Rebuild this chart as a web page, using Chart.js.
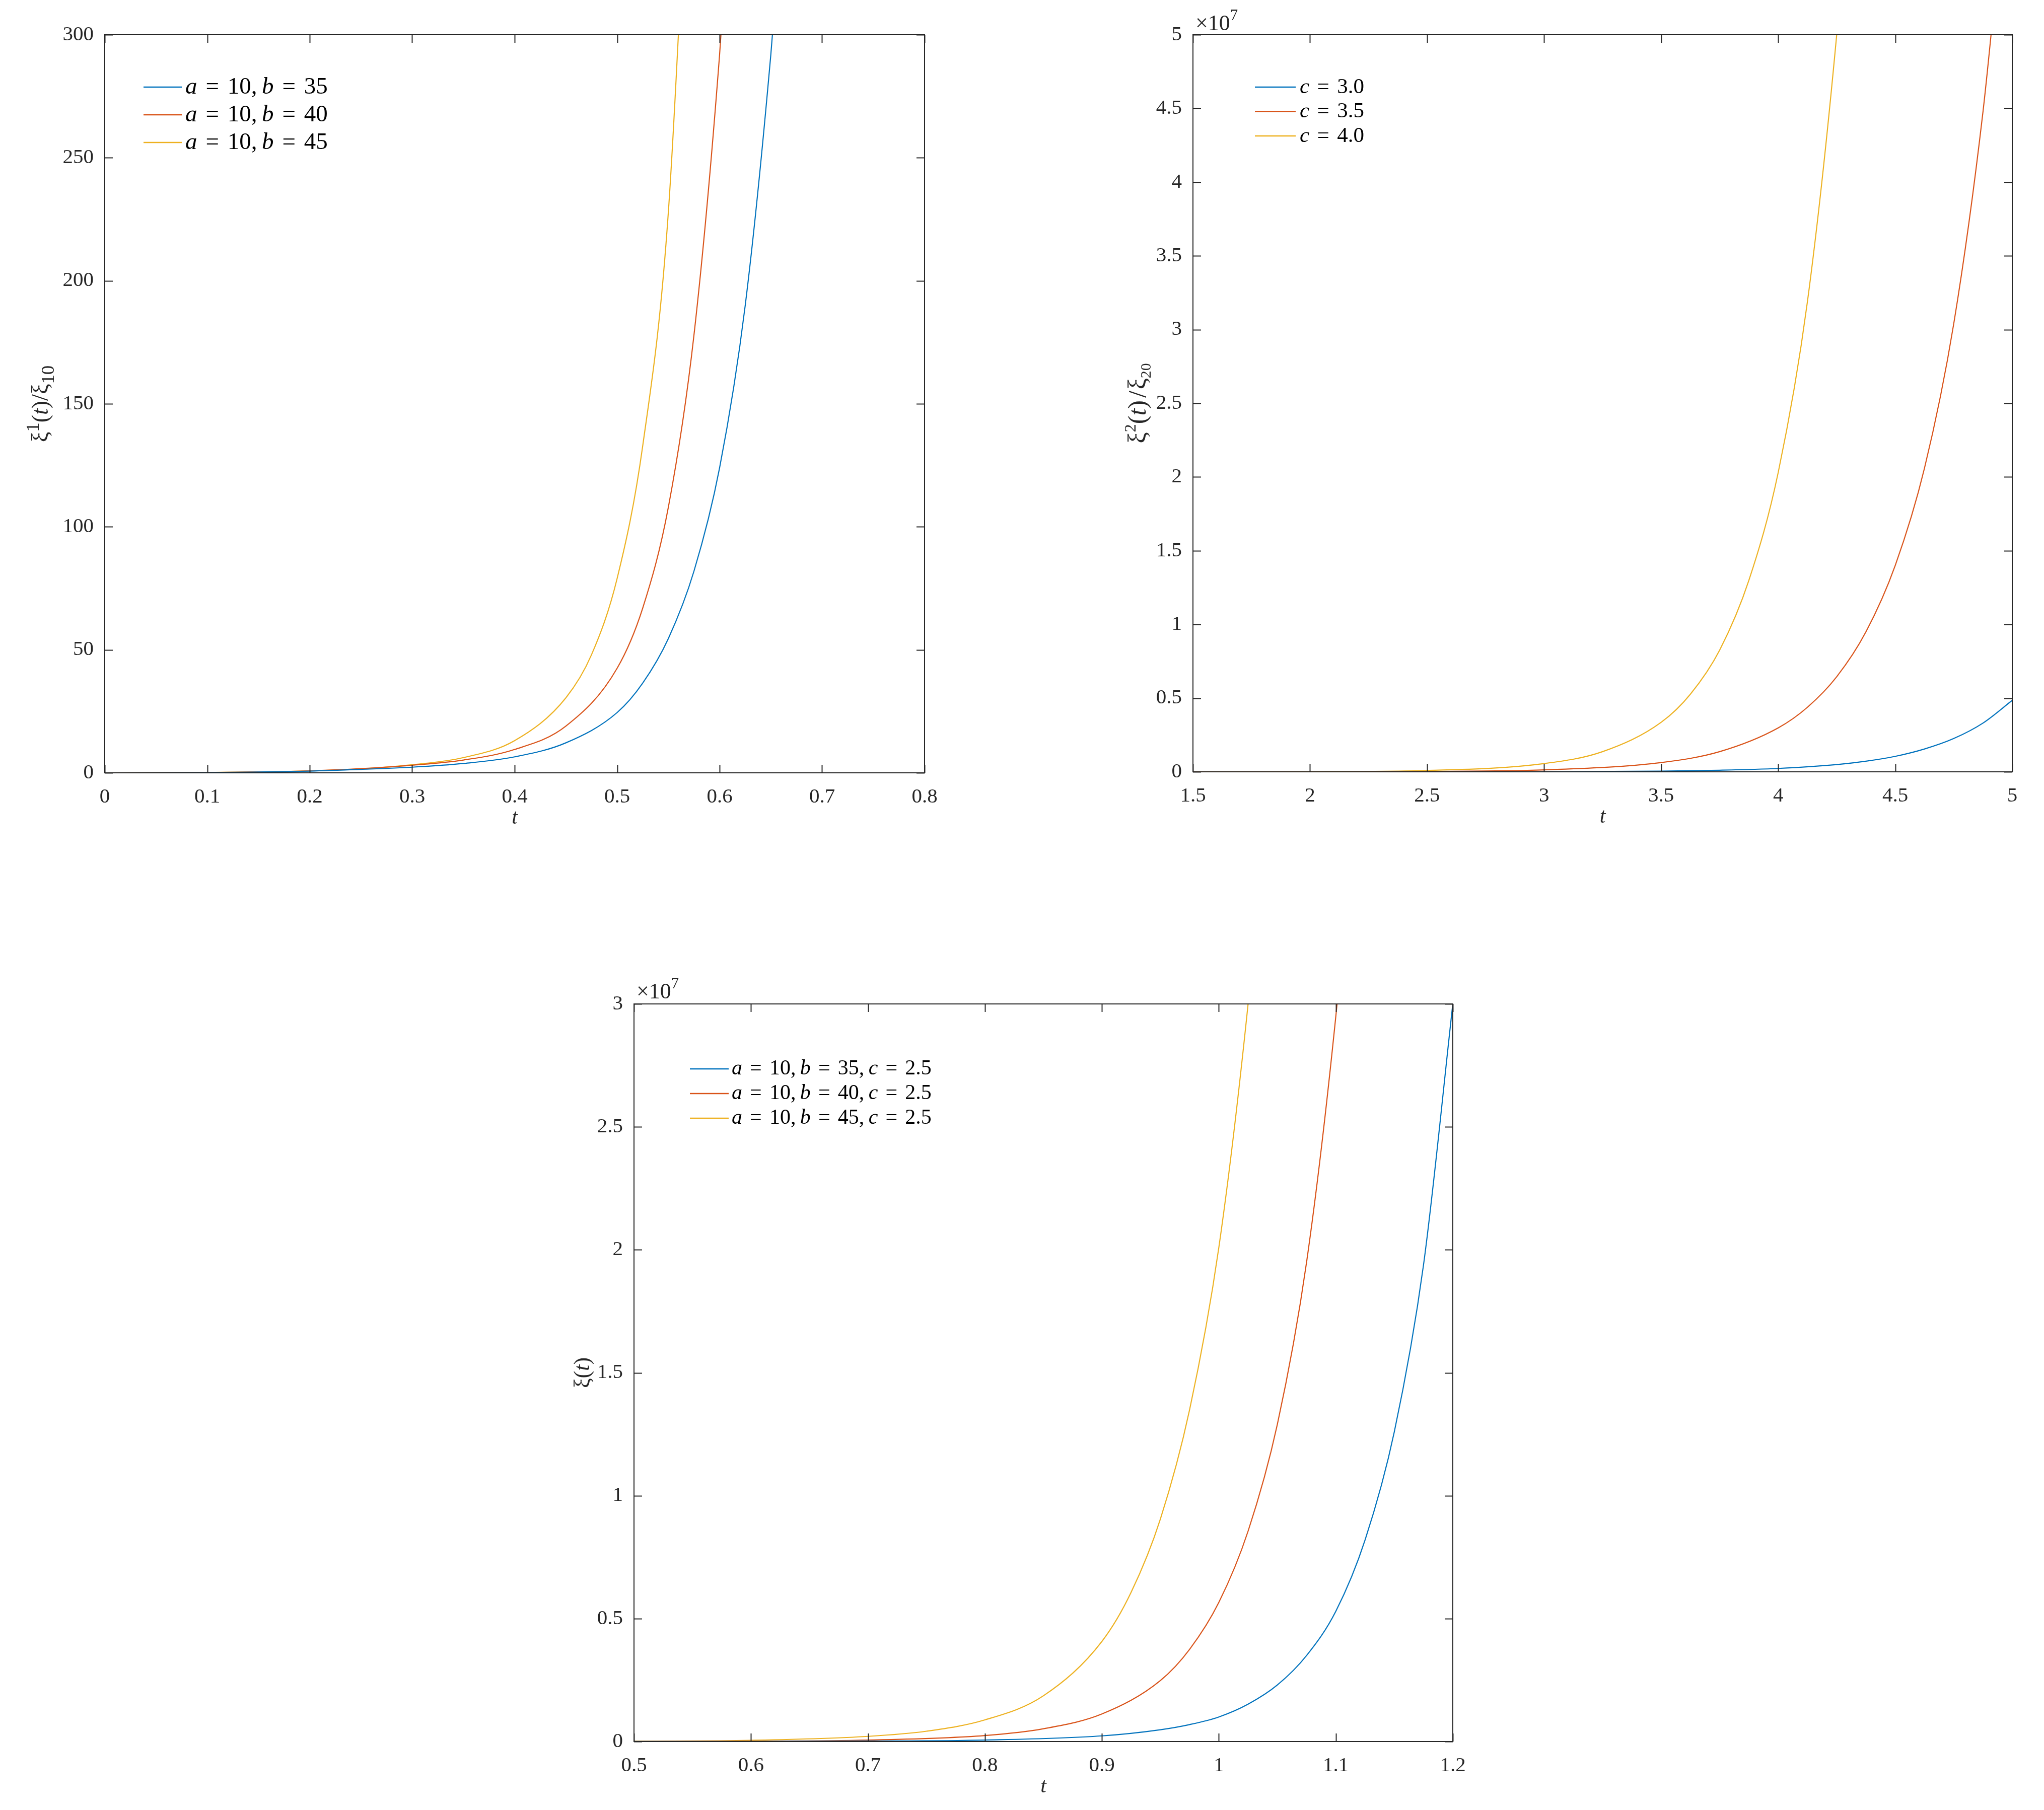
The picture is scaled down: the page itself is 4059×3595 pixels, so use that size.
<!DOCTYPE html>
<html>
<head>
<meta charset="utf-8">
<script src="https://cdn.jsdelivr.net/npm/chart.js@4.4.1/dist/chart.umd.min.js"></script>
<style>
html, body { margin: 0; padding: 0; background: #fff; }
body { width: 4059px; height: 3595px; position: relative; overflow: hidden; }
canvas { position: absolute; }
</style>
</head>
<body>
<canvas id="c1" width="2000" height="1700" style="left:0px;top:0px"></canvas>
<canvas id="c2" width="1959" height="1700" style="left:2100px;top:0px"></canvas>
<canvas id="c3" width="2100" height="1745" style="left:1000px;top:1850px"></canvas>
<script>
// ---- data ----
// chart 1 : xi^1(t)/xi_10
const legend1 = ['a = 10, b = 35', 'a = 10, b = 40', 'a = 10, b = 45'];
const xTicks1 = [0, 0.1, 0.2, 0.3, 0.4, 0.5, 0.6, 0.7, 0.8];
const yTicks1 = [0, 50, 100, 150, 200, 250, 300];
const tB1 = [0, 0.1, 0.2, 0.25, 0.3, 0.35, 0.4, 0.45, 0.5, 0.525, 0.55, 0.575, 0.6, 0.625, 0.65, 0.66];
const yB1 = [0, 0.12, 0.7, 1.4, 2.3, 3.8, 6.5, 12.2, 24.5, 36.5, 54.6, 82, 124, 190, 292, 345];
const tR1 = [0, 0.1, 0.2, 0.25, 0.3, 0.35, 0.4, 0.45, 0.5, 0.525, 0.55, 0.575, 0.6, 0.61];
const yR1 = [0, 0.14, 0.8, 1.7, 3.1, 5.2, 9.5, 19, 42.5, 67, 108, 178, 292, 355];
const tY1 = [0, 0.1, 0.2, 0.25, 0.3, 0.35, 0.4, 0.45, 0.475, 0.5, 0.525, 0.55, 0.575];
const yY1 = [0, 0.15, 0.8, 1.6, 3.3, 6.2, 13.1, 30.5, 48, 79, 133, 228, 430];

// chart 2 : xi^2(t)/xi_20  (values in units of 10^7)
const legend2 = ['c = 3.0', 'c = 3.5', 'c = 4.0'];
const xTicks2 = [1.5, 2, 2.5, 3, 3.5, 4, 4.5, 5];
const yTicks2 = [0, 0.5, 1, 1.5, 2, 2.5, 3, 3.5, 4, 4.5, 5];
const tB2 = [1.5, 2, 2.5, 3, 3.5, 3.75, 4, 4.25, 4.375, 4.5, 4.625, 4.75, 4.875, 5];
const yB2 = [0.00001, 0.00005, 0.00025, 0.0011, 0.005, 0.0108, 0.023, 0.049, 0.072, 0.105, 0.155, 0.226, 0.331, 0.485];
const tR2 = [1.5, 2, 2.5, 3, 3.5, 3.75, 4, 4.125, 4.25, 4.375, 4.5, 4.625, 4.75, 4.875, 4.95];
const yR2 = [0.00013, 0.0006, 0.0029, 0.0134, 0.063, 0.137, 0.298, 0.438, 0.645, 0.95, 1.4, 2.06, 3.04, 4.48, 5.66];
const tY2 = [1.5, 2, 2.5, 3, 3.25, 3.5, 3.625, 3.75, 3.875, 4, 4.125, 4.25, 4.3];
const yY2 = [0.00025, 0.0015, 0.0092, 0.056, 0.137, 0.336, 0.527, 0.826, 1.3, 2.03, 3.19, 5.0, 5.98];

// chart 3 : xi(t)  (values in units of 10^7)
const legend3 = ['a = 10, b = 35, c = 2.5', 'a = 10, b = 40, c = 2.5', 'a = 10, b = 45, c = 2.5'];
const xTicks3 = [0.5, 0.6, 0.7, 0.8, 0.9, 1, 1.1, 1.2];
const yTicks3 = [0, 0.5, 1, 1.5, 2, 2.5, 3];
const tB3 = [0.5, 0.6, 0.7, 0.8, 0.9, 0.95, 0.975, 1.0, 1.025, 1.05, 1.075, 1.1, 1.125, 1.15, 1.175, 1.2];
const yB3 = [0.0001, 0.0005, 0.0017, 0.006, 0.023, 0.048, 0.069, 0.1, 0.152, 0.23, 0.35, 0.53, 0.82, 1.26, 1.94, 3.0];
const tR3 = [0.5, 0.6, 0.7, 0.8, 0.85, 0.9, 0.95, 0.975, 1.0, 1.025, 1.05, 1.075, 1.1, 1.11];
const yR3 = [0.0004, 0.0015, 0.006, 0.0245, 0.052, 0.112, 0.248, 0.375, 0.566, 0.856, 1.29, 1.95, 2.95, 3.48];
const tY3 = [0.5, 0.6, 0.7, 0.75, 0.8, 0.85, 0.9, 0.925, 0.95, 0.975, 1.0, 1.025, 1.035];
const yY3 = [0.0012, 0.005, 0.021, 0.042, 0.088, 0.186, 0.407, 0.607, 0.905, 1.35, 2.01, 3.0, 3.52];

const COLORS = ['#0072BD', '#D95319', '#EDB120'];
const FONT = "'Liberation Serif', 'Times New Roman', serif";
const INK = '#262626';

function pts(ts, ys) {
    return ts.map((t, i) => ({ x: t, y: ys[i] }));
}

// draws a list of text pieces (italic / raised / lowered) starting at x
function drawRich(ctx, parts, x, y, size, dry) {
    let cx = x;
    parts.forEach(p => {
        const fs = size * (p.sc || 1);
        ctx.font = (p.it ? 'italic ' : '') + fs + 'px ' + FONT;
        cx += (p.pre || 0) * size;
        if (!dry) ctx.fillText(p.t, cx, y + (p.dy || 0) * size);
        cx += ctx.measureText(p.t).width + (p.post || 0) * size;
    });
    return cx - x;
}

// turns 'a = 10, b = 35' into pieces with math-like spacing
function mathParts(str) {
    const out = [];
    str.split(' ').filter(s => s.length).forEach(tok => {
        if (tok === '=') {
            out.push({ t: '=', pre: 0.36, post: 0.36 });
            return;
        }
        let comma = false;
        if (tok.endsWith(',')) { comma = true; tok = tok.slice(0, -1); }
        out.push({ t: tok, it: /^[a-z]$/.test(tok) });
        if (comma) out.push({ t: ',', post: 0.2 });
    });
    return out;
}

const matlabBox = {
    id: 'matlabBox',
    afterDatasetsDraw(chart, args, o) {
        const ctx = chart.ctx;
        const a = chart.chartArea;
        const xs = chart.scales.x, ys = chart.scales.y;
        ctx.save();
        ctx.strokeStyle = INK;
        ctx.fillStyle = INK;
        ctx.lineWidth = 2;
        // tick marks on all four sides, pointing in
        ctx.beginPath();
        xs.ticks.forEach(tk => {
            const px = Math.round(xs.getPixelForValue(tk.value)) + 0.5;
            ctx.moveTo(px, a.bottom); ctx.lineTo(px, a.bottom - 16);
            ctx.moveTo(px, a.top); ctx.lineTo(px, a.top + 16);
        });
        ys.ticks.forEach(tk => {
            const py = Math.round(ys.getPixelForValue(tk.value)) + 0.5;
            ctx.moveTo(a.left, py); ctx.lineTo(a.left + 16, py);
            ctx.moveTo(a.right, py); ctx.lineTo(a.right - 16, py);
        });
        ctx.stroke();
        ctx.strokeRect(a.left, a.top, a.right - a.left, a.bottom - a.top);

        // x title
        ctx.textBaseline = 'alphabetic';
        ctx.textAlign = 'left';
        const cx = (a.left + a.right) / 2;
        const xt = [{ t: 't', it: true }];
        const w = drawRich(ctx, xt, 0, 0, 42, true);
        drawRich(ctx, xt, cx - w / 2, a.bottom + 101, 42);

        // y title, rotated
        const cy = (a.top + a.bottom) / 2;
        ctx.save();
        ctx.translate(a.left + o.yTitleX, cy);
        ctx.rotate(-Math.PI / 2);
        const wy = drawRich(ctx, o.yTitle, 0, 0, o.yTitleSize, true);
        drawRich(ctx, o.yTitle, -wy / 2, 0, o.yTitleSize);
        ctx.restore();

        // x10^7 multiplier
        if (o.exponent) {
            drawRich(ctx, [{ t: '×10' }, { t: '7', sc: 0.7, dy: -0.45 }],
                a.left + 5, a.top - o.expGap, 44);
        }

        // legend
        o.legend.forEach((lab, i) => {
            const y = a.top + o.legY + i * o.legDy;
            ctx.strokeStyle = COLORS[i];
            ctx.lineWidth = 2.5;
            ctx.beginPath();
            ctx.moveTo(a.left + o.legX, y);
            ctx.lineTo(a.left + o.legX + o.legLen, y);
            ctx.stroke();
            ctx.fillStyle = '#000';
            drawRich(ctx, mathParts(lab), a.left + o.legX + o.legLen + o.legGap, y + o.legSize * 0.27, o.legSize);
        });
        ctx.restore();
    }
};

function fmt(v) {
    return String(+v.toFixed(2));
}

function makeChart(id, series, cfg) {
    const ctx = document.getElementById(id).getContext('2d');
    return new Chart(ctx, {
        type: 'line',
        data: {
            datasets: series.map((s, i) => ({
                data: pts(s[0], s[1]),
                borderColor: COLORS[i],
                borderWidth: 2.2,
                pointRadius: 0,
                fill: false,
                cubicInterpolationMode: 'monotone',
                clip: 0
            }))
        },
        options: {
            responsive: false,
            animation: false,
            devicePixelRatio: 1,
            layout: { autoPadding: false, padding: cfg.padding },
            plugins: {
                legend: { display: false },
                tooltip: { enabled: false },
                matlabBox: cfg.box
            },
            scales: {
                x: {
                    type: 'linear',
                    min: cfg.xTicks[0],
                    max: cfg.xTicks[cfg.xTicks.length - 1],
                    afterBuildTicks: s => { s.ticks = cfg.xTicks.map(v => ({ value: v })); },
                    afterFit: s => { s.height = cfg.xH; s.paddingLeft = 0; s.paddingRight = 0; },
                    grid: { display: false },
                    border: { display: false },
                    ticks: {
                        padding: 16,
                        maxRotation: 0,
                        autoSkip: false,
                        color: INK,
                        font: { family: FONT, size: 41 },
                        callback: v => fmt(v)
                    }
                },
                y: {
                    type: 'linear',
                    min: cfg.yTicks[0],
                    max: cfg.yTicks[cfg.yTicks.length - 1],
                    afterBuildTicks: s => { s.ticks = cfg.yTicks.map(v => ({ value: v })); },
                    afterFit: s => { s.width = cfg.yW; s.paddingTop = 0; s.paddingBottom = 0; },
                    grid: { display: false },
                    border: { display: false },
                    ticks: {
                        padding: 14,
                        autoSkip: false,
                        color: INK,
                        font: { family: FONT, size: 41 },
                        callback: v => fmt(v)
                    }
                }
            }
        },
        plugins: [matlabBox]
    });
}

makeChart('c1', [[tB1, yB1], [tR1, yR1], [tY1, yY1]], {
    xTicks: xTicks1, yTicks: yTicks1,
    padding: { left: 0, top: 69, right: 164, bottom: 0 },
    xH: 165, yW: 208,
    box: {
        legend: legend1, legX: 77, legY: 104, legDy: 55, legLen: 76, legGap: 7, legSize: 47,
        yTitleX: -113, yTitleSize: 46,
        yTitle: [{ t: 'ξ' }, { t: '1', sc: 0.8, dy: -0.4 }, { t: '(' }, { t: 't', it: true }, { t: ')/' },
                 { t: 'ξ' }, { t: '10', sc: 0.8, dy: 0.25 }]
    }
});

makeChart('c2', [[tB2, yB2], [tR2, yR2], [tY2, yY2]], {
    xTicks: xTicks2, yTicks: yTicks2,
    padding: { left: 0, top: 69, right: 63, bottom: 0 },
    xH: 167, yW: 269,
    box: {
        legend: legend2, legX: 123, legY: 104, legDy: 48.5, legLen: 81, legGap: 8, legSize: 43,
        yTitleX: -94, yTitleSize: 50, exponent: true, expGap: 9,
        yTitle: [{ t: 'ξ' }, { t: '2', sc: 0.65, dy: -0.4 }, { t: '(' }, { t: 't', it: true }, { t: ')' },
                 { t: '/', pre: 0.1, post: 0.05 }, { t: 'ξ' }, { t: '20', sc: 0.6, dy: 0.2 }]
    }
});

makeChart('c3', [[tB3, yB3], [tR3, yR3], [tY3, yY3]], {
    xTicks: xTicks3, yTicks: yTicks3,
    padding: { left: 0, top: 144, right: 215, bottom: 0 },
    xH: 136, yW: 259,
    box: {
        legend: legend3, legX: 111, legY: 129, legDy: 49, legLen: 77, legGap: 6, legSize: 42,
        yTitleX: -89, yTitleSize: 44, exponent: true, expGap: 11,
        yTitle: [{ t: 'ξ' }, { t: '(' }, { t: 't', it: true }, { t: ')' }]
    }
});
</script>
</body>
</html>
